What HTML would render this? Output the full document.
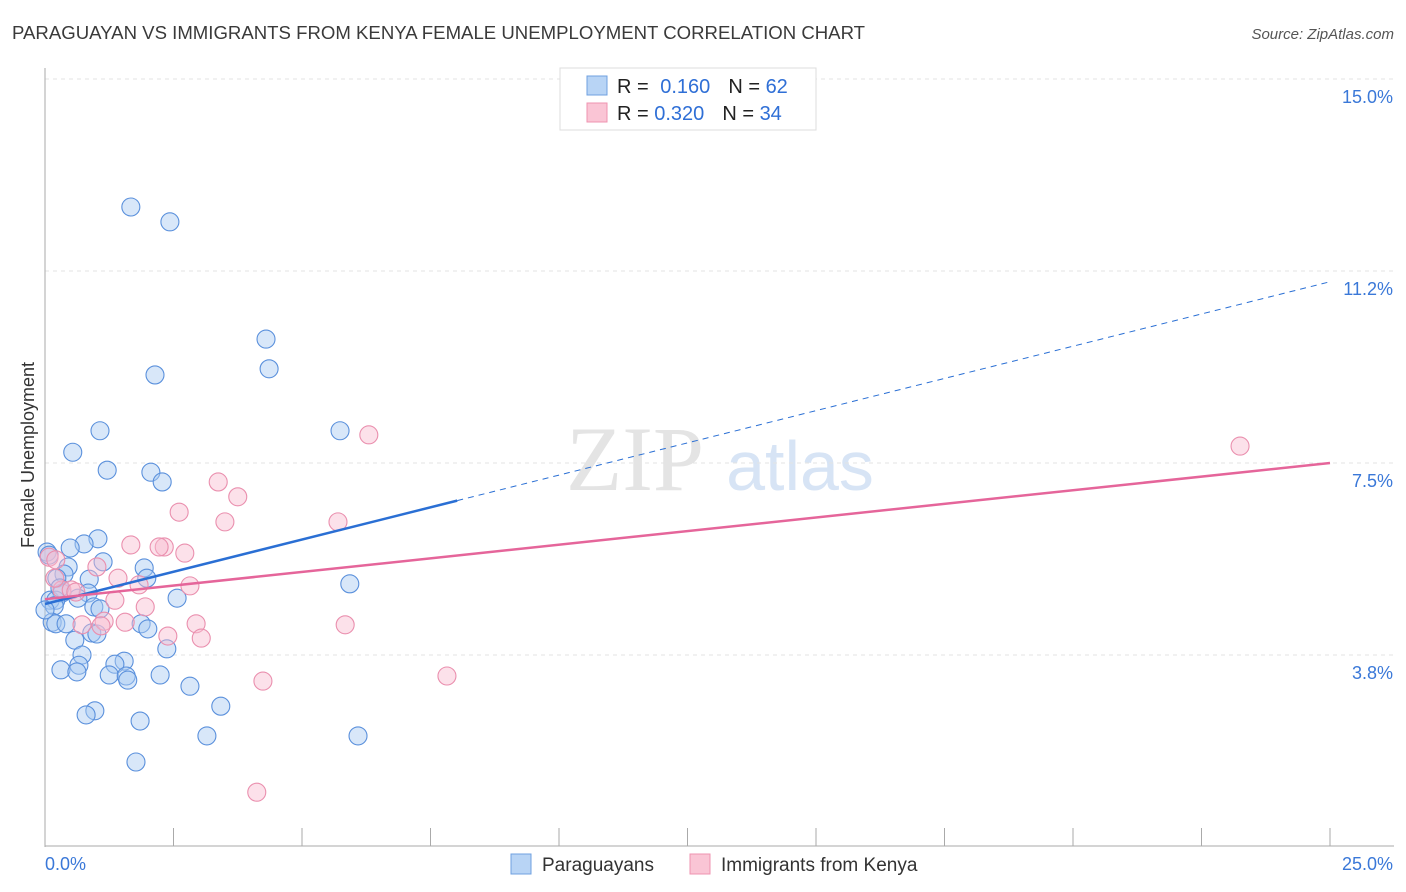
<!DOCTYPE html>
<html><head><meta charset="utf-8"><style>
body{margin:0;background:#fff;font-family:"Liberation Sans",sans-serif;}
svg{display:block}
</style></head><body>
<svg id="chart" width="1406" height="892">
<text x="12" y="39" font-size="18.6" fill="#3a3a3a">PARAGUAYAN VS IMMIGRANTS FROM KENYA FEMALE UNEMPLOYMENT CORRELATION CHART</text>
<text x="1394" y="39" font-size="15" fill="#555" text-anchor="end" font-style="italic">Source: ZipAtlas.com</text>
<g>
<text x="635" y="490" font-size="92" fill="#e4e4e4" font-family="Liberation Serif,serif" text-anchor="middle">ZIP</text>
<text x="800" y="490" font-size="70" fill="#d7e4f5" text-anchor="middle">atlas</text>
</g>
<g id="grid"></g>
<g id="axes"></g>
<g id="points"></g>
<g id="trends"></g>
<text transform="translate(34,455) rotate(-90)" font-size="18" fill="#333" text-anchor="middle">Female Unemployment</text>
<g>
<rect x="560" y="68" width="256" height="62" fill="#fff" stroke="#ddd"/>
<rect x="587" y="76" width="20" height="19" fill="#b8d4f5" stroke="#6fa0e0"/>
<rect x="587" y="103" width="20" height="19" fill="#fac5d5" stroke="#ef93b0"/>
<text x="617" y="93" font-size="20" fill="#222">R = <tspan fill="#2f6fd6" dx="6">0.160</tspan><tspan dx="18">N = </tspan><tspan fill="#2f6fd6">62</tspan></text>
<text x="617" y="120" font-size="20" fill="#222">R = <tspan fill="#2f6fd6">0.320</tspan><tspan dx="18">N = </tspan><tspan fill="#2f6fd6">34</tspan></text>
</g>
<g>
<rect x="511" y="854" width="20" height="20" fill="#b8d4f5" stroke="#6fa0e0"/>
<text x="542" y="871" font-size="19" fill="#333">Paraguayans</text>
<rect x="690" y="854" width="20" height="20" fill="#fac5d5" stroke="#ef93b0"/>
<text x="721" y="871" font-size="19" fill="#333">Immigrants from Kenya</text>
</g>
</svg>
<script>
const yTicks=[3.75,7.5,11.25,15];
const yTickLabels=["3.8%","7.5%","11.2%","15.0%"];
const xTicks=[0,2.5,5,7.5,10,12.5,15,17.5,20,22.5,25];
const xTickLabels=["0.0%","25.0%"];
const blueX=[1.67,2.43,4.30,4.36,2.14,5.74,1.07,0.54,1.21,2.06,2.28,1.03,0.76,0.49,0.04,0.08,1.13,0.45,1.93,0.37,1.98,0.86,0.23,5.93,0.84,0.33,0.10,0.21,0.18,2.57,0.95,1.07,1.87,2.00,0.14,0.21,0.41,0.91,1.01,0.58,2.37,0.72,1.54,1.36,0.66,0.31,0.62,1.25,1.58,2.24,1.61,2.82,3.42,0.97,0.80,1.85,3.15,6.09,1.77,0.0,0.29,0.64];
const blueY=[12.50,12.21,9.92,9.34,9.22,8.13,8.13,7.71,7.36,7.32,7.13,6.02,5.92,5.84,5.76,5.70,5.57,5.47,5.45,5.33,5.25,5.23,5.25,5.14,4.96,4.96,4.82,4.82,4.71,4.86,4.69,4.65,4.36,4.26,4.39,4.36,4.36,4.18,4.16,4.04,3.87,3.75,3.63,3.57,3.55,3.46,3.42,3.36,3.34,3.36,3.26,3.14,2.75,2.66,2.58,2.46,2.17,2.17,1.66,4.63,5.06,4.86];
const pinkX=[6.30,23.25,3.37,3.75,2.61,3.50,5.70,1.67,2.32,2.22,2.72,0.08,0.21,1.01,1.42,1.83,2.82,0.33,0.51,0.60,1.36,1.95,1.15,1.56,0.72,2.94,5.84,1.09,2.39,3.04,4.24,7.82,4.12,0.19];
const pinkY=[8.05,7.83,7.13,6.84,6.54,6.35,6.35,5.90,5.86,5.86,5.74,5.66,5.61,5.47,5.25,5.12,5.10,5.02,5.02,4.98,4.82,4.69,4.41,4.39,4.34,4.36,4.34,4.32,4.12,4.08,3.24,3.34,1.07,5.25];
const blueTrend=[4.746,11.04];
const blueSolidEnd=8.02;
const pinkTrend=[4.84,7.5];

const NS="http://www.w3.org/2000/svg";
const X=v=>45+v/25*1285;
const Y=v=>847-v*51.2;
function mk(tag,attrs,parent){const e=document.createElementNS(NS,tag);for(const k in attrs)e.setAttribute(k,attrs[k]);document.getElementById(parent).appendChild(e);return e;}
yTicks.forEach((t,i)=>{
  const g=mk('line',{x1:45,x2:1394,y1:Y(t),y2:Y(t),stroke:'#e3e3e3','stroke-dasharray':'4,4'},'grid');
  
  
  const l=mk('text',{x:1393,y:Y(t)+24,'font-size':18,fill:'#3a78d8','text-anchor':'end'},'axes');
  l.textContent=yTickLabels[i];
  
  
});
const ax=mk('line',{x1:45,x2:45,y1:68,y2:847,stroke:'#aaa'},'axes');


const bx=mk('line',{x1:45,x2:1394,y1:846,y2:846,stroke:'#aaa'},'axes');


xTicks.forEach(t=>{
  const tk=mk('line',{x1:X(t),x2:X(t),y1:828,y2:846,stroke:'#aaa'},'axes');
  
  
});
[[0,'start',45],[25,'end',1393]].forEach((d,i)=>{
  const l=mk('text',{x:d[2],y:870,'font-size':18,fill:'#3a78d8','text-anchor':d[1]},'axes');
  l.textContent=xTickLabels[i];
  
  
});
function pts(xs,ys,fill,stroke,name){xs.forEach((x,i)=>{
  const c=mk('circle',{cx:X(x),cy:Y(ys[i]),r:9,fill:fill,'fill-opacity':0.45,stroke:stroke,'stroke-width':1.1},'points');
  
  
});}
pts(blueX,blueY,'#a9c9f2','#5a90dc','paraguayan-point');
pts(pinkX,pinkY,'#f8bdd0','#ea8fae','kenya-point');
const by=v=>blueTrend[0]+(blueTrend[1]-blueTrend[0])*v/25;
const l1=mk('line',{x1:X(0),y1:Y(by(0)),x2:X(blueSolidEnd),y2:Y(by(blueSolidEnd)),stroke:'#2a6fd4','stroke-width':2.5},'trends');


const l2=mk('line',{x1:X(blueSolidEnd),y1:Y(by(blueSolidEnd)),x2:X(25),y2:Y(by(25)),stroke:'#2a6fd4','stroke-width':1,'stroke-dasharray':'6,5'},'trends');


const l3=mk('line',{x1:X(0),y1:Y(pinkTrend[0]),x2:X(25),y2:Y(pinkTrend[1]),stroke:'#e5659a','stroke-width':2.5},'trends');


</script>
</body></html>
